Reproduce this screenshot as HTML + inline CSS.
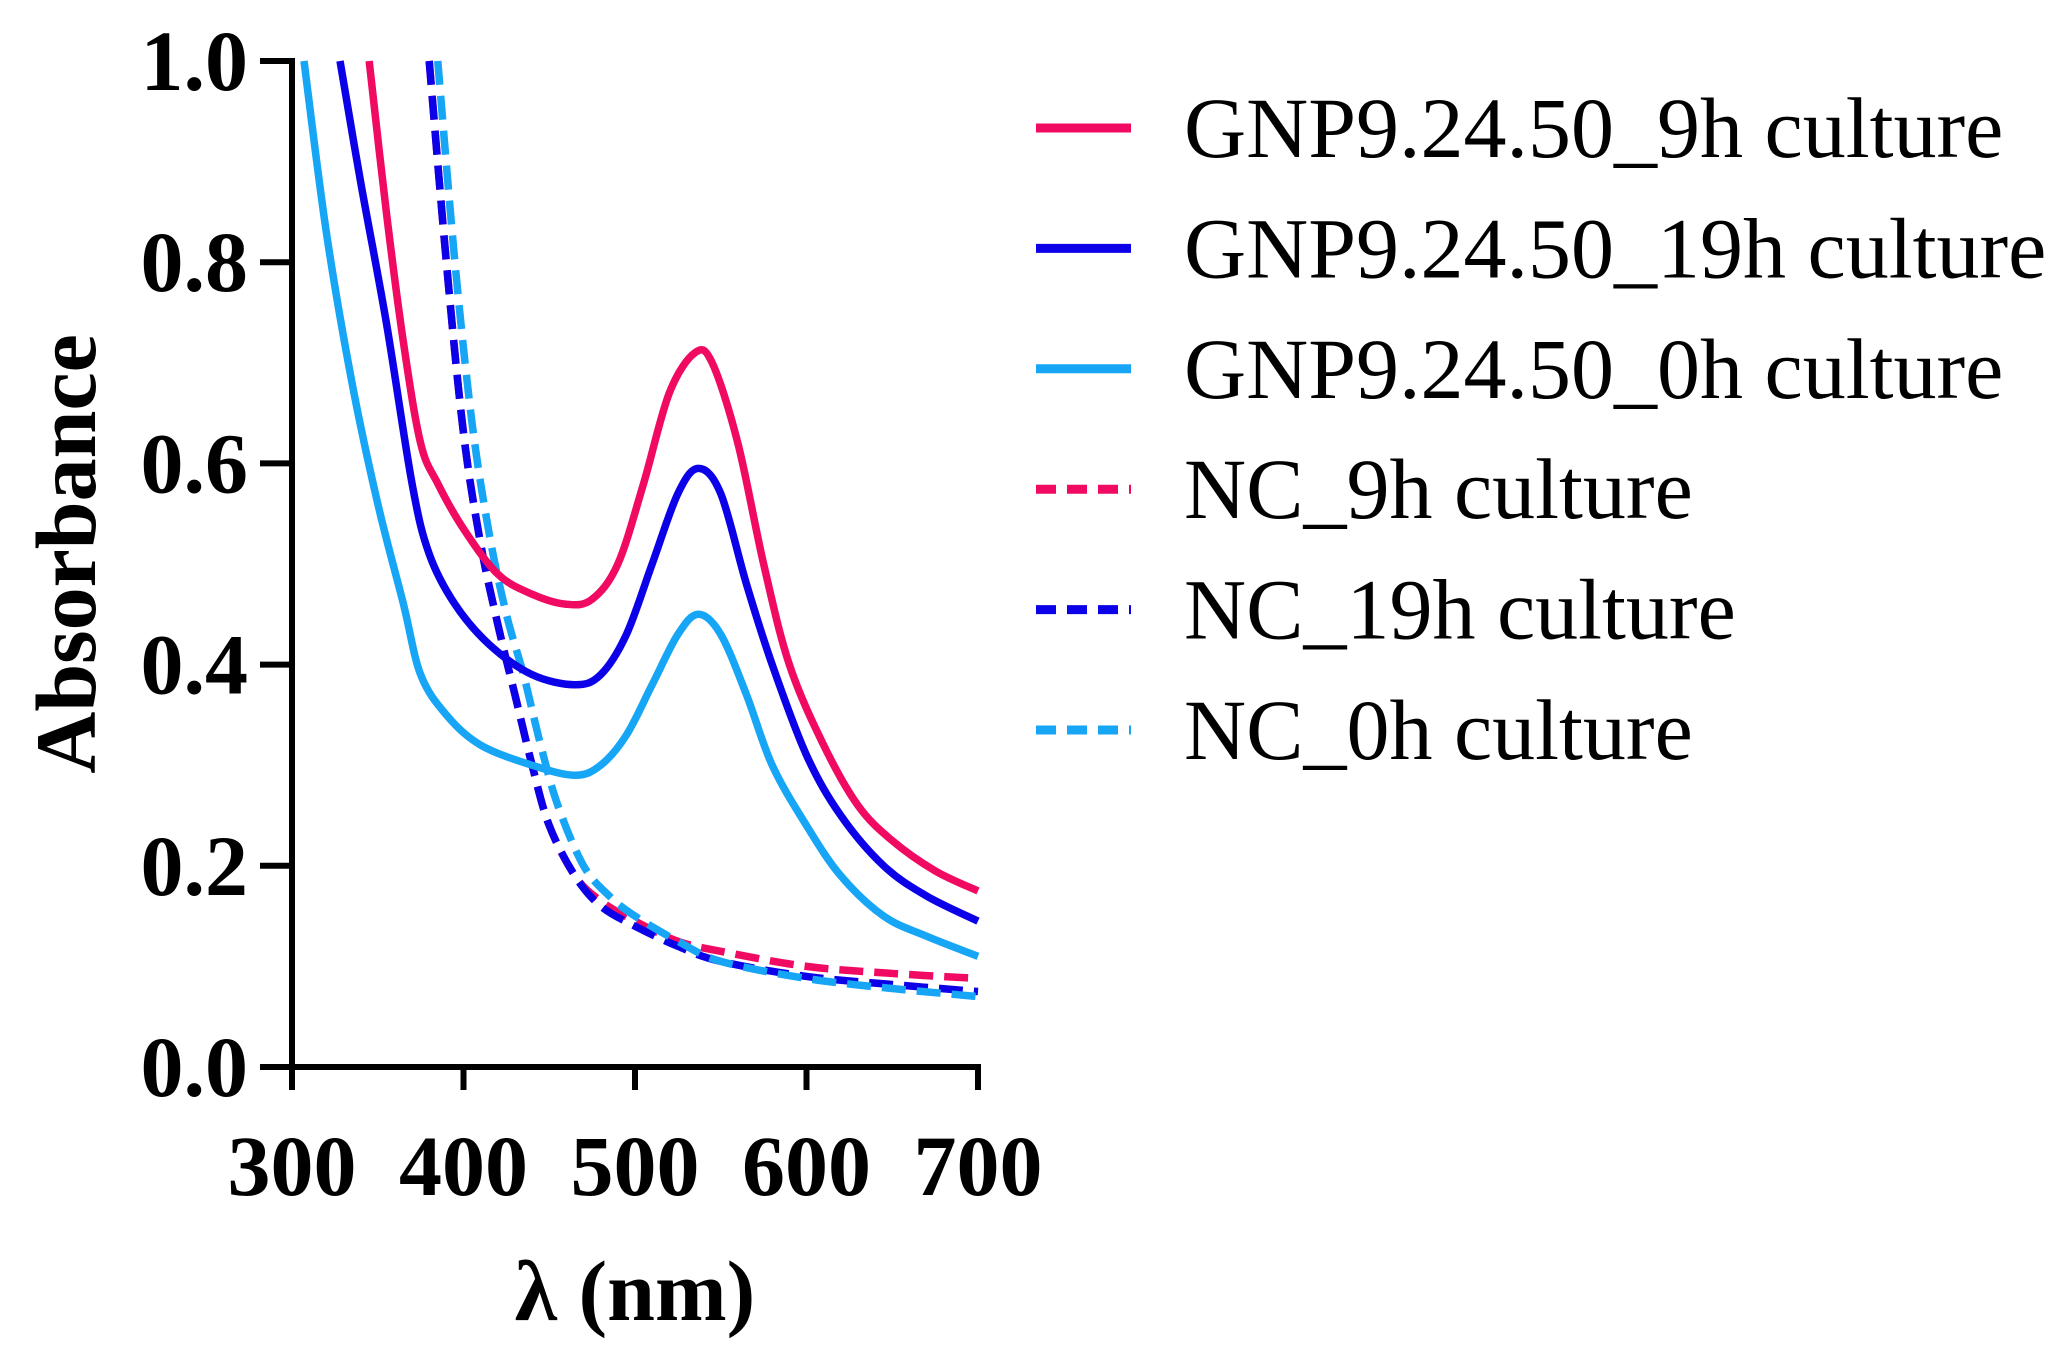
<!DOCTYPE html>
<html><head><meta charset="utf-8"><style>
html,body{margin:0;padding:0;background:#fff;}
svg{display:block;}
text{font-family:"Liberation Serif",serif;}
</style></head><body>
<svg id="chart" width="2062" height="1357" viewBox="0 0 2062 1357" xmlns="http://www.w3.org/2000/svg">
<g id="plot"></g>
<g id="axes"></g>
<g id="legend"></g>
</svg>
<script>
const xTicks=[300,400,500,600,700];
const yTicks=[0.0,0.2,0.4,0.6,0.8,1.0];
const seriesNames=["GNP9.24.50_9h culture","GNP9.24.50_19h culture","GNP9.24.50_0h culture","NC_9h culture","NC_19h culture","NC_0h culture"];
const gnp9X=[345,355,365,375,385,400,420,440,460,475,490,505,520,535,545,560,575,590,610,630,650,675,700];
const gnp9Y=[1.0,0.85,0.72,0.62,0.58,0.535,0.49,0.47,0.46,0.465,0.50,0.58,0.67,0.71,0.70,0.62,0.50,0.40,0.32,0.26,0.225,0.195,0.175];
const gnp19X=[328,340,355,370,380,395,415,440,465,480,495,510,525,537,550,565,580,600,620,645,670,700];
const gnp19Y=[1.0,0.88,0.74,0.58,0.51,0.46,0.42,0.39,0.38,0.39,0.43,0.50,0.57,0.595,0.57,0.48,0.40,0.31,0.25,0.20,0.17,0.145];
const gnp0X=[307,320,335,350,365,375,390,410,440,465,480,495,510,525,537,550,565,580,600,620,645,670,700];
const gnp0Y=[1.0,0.83,0.68,0.56,0.46,0.39,0.35,0.32,0.30,0.29,0.30,0.33,0.38,0.43,0.45,0.43,0.37,0.30,0.24,0.19,0.15,0.13,0.11];
const nc9X=[380,390,400,410,420,430,440,450,465,480,500,525,550,600,650,700];
const nc9Y=[1.0,0.80,0.63,0.52,0.44,0.37,0.30,0.24,0.19,0.165,0.145,0.125,0.115,0.10,0.093,0.088];
const nc19X=[380,390,400,410,420,430,440,450,465,480,500,525,550,600,650,700];
const nc19Y=[1.0,0.80,0.63,0.52,0.44,0.37,0.30,0.24,0.19,0.16,0.14,0.12,0.105,0.09,0.082,0.075];
const nc0X=[385,395,405,415,425,435,445,455,470,485,500,525,550,600,650,700];
const nc0Y=[1.0,0.80,0.64,0.53,0.45,0.39,0.32,0.26,0.20,0.17,0.15,0.125,0.105,0.088,0.078,0.07];

const X0=292,X1=978,Y0=1067,Y1=61;
const sx=v=>X0+(v-300)/400*(X1-X0);
const sy=v=>Y0-(v-0)/1.0*(Y0-Y1);
const NS="http://www.w3.org/2000/svg";
function mk(tag,attrs,parent){const e=document.createElementNS(NS,tag);for(const k in attrs)e.setAttribute(k,attrs[k]);parent.appendChild(e);return e;}
function pathD(xs,ys){
  const p=xs.map((x,i)=>[sx(x),sy(ys[i])]);
  let d="M"+p[0][0]+","+p[0][1];
  for(let i=0;i<p.length-1;i++){
    const a=p[Math.max(0,i-1)],b=p[i],c=p[i+1],e=p[Math.min(p.length-1,i+2)];
    const c1=[b[0]+(c[0]-a[0])/6,b[1]+(c[1]-a[1])/6],c2=[c[0]-(e[0]-b[0])/6,c[1]-(e[1]-b[1])/6];
    d+=" C"+c1+" "+c2+" "+c;
  }
  return d;
}
const plot=document.getElementById('plot'),axes=document.getElementById('axes'),legend=document.getElementById('legend');
const colors=["#f00a62","#0c00e8","#16a6f5","#f00a62","#0c00e8","#16a6f5"];
const dashes=[null,null,null,"24 11","24 11","24 11"];
const allX=[gnp9X,gnp19X,gnp0X,nc9X,nc19X,nc0X],allY=[gnp9Y,gnp19Y,gnp0Y,nc9Y,nc19Y,nc0Y];
const keys=["gnp-9h","gnp-19h","gnp-0h","nc-9h","nc-19h","nc-0h"];
const order=[3,4,5,2,1,0];
order.forEach(i=>{
  const p=mk('path',{d:pathD(allX[i],allY[i]),fill:"none",stroke:colors[i],"stroke-width":7.5,"stroke-linejoin":"round"},plot);
  if(dashes[i])p.setAttribute('stroke-dasharray',dashes[i]);
  
  
});
const ya=mk('line',{x1:X0,y1:Y1-3,x2:X0,y2:Y0+3,stroke:"#000","stroke-width":6},axes);


const xa=mk('line',{x1:X0-3,y1:Y0,x2:X1+3,y2:Y0,stroke:"#000","stroke-width":6},axes);


yTicks.forEach(v=>{
  const t=mk('line',{x1:260,y1:sy(v),x2:X0,y2:sy(v),stroke:"#000","stroke-width":6},axes);
  
  
  const l=mk('text',{x:248,y:sy(v)+29,"text-anchor":"end","font-size":86,"font-weight":"bold"},axes);
  l.textContent=v.toFixed(1);
  
  
});
xTicks.forEach(v=>{
  const t=mk('line',{x1:sx(v),y1:Y0,x2:sx(v),y2:1090,stroke:"#000","stroke-width":6},axes);
  
  
  const l=mk('text',{x:sx(v),y:1195,"text-anchor":"middle","font-size":86,"font-weight":"bold"},axes);
  l.textContent=String(v);
  
  
});
const xt=mk('text',{x:635,y:1320,"text-anchor":"middle","font-size":86,"font-weight":"bold"},axes);
xt.textContent="λ (nm)";


const yt=mk('text',{x:0,y:0,"text-anchor":"middle","font-size":86,"font-weight":"bold",transform:"translate(95,554) rotate(-90)"},axes);
yt.textContent="Absorbance";


seriesNames.forEach((n,i)=>{
  const y=128+i*120.4;
  const g=mk('g',{},legend);
  
  
  const s=mk('line',{x1:1036,y1:y,x2:1131,y2:y,stroke:colors[i],"stroke-width":9},g);
  if(dashes[i])s.setAttribute('stroke-dasharray',"20 11");
  
  
  const t=mk('text',{x:1184,y:y+29,"font-size":86},g);
  t.textContent=n;
  
  
});
</script>
</body></html>
